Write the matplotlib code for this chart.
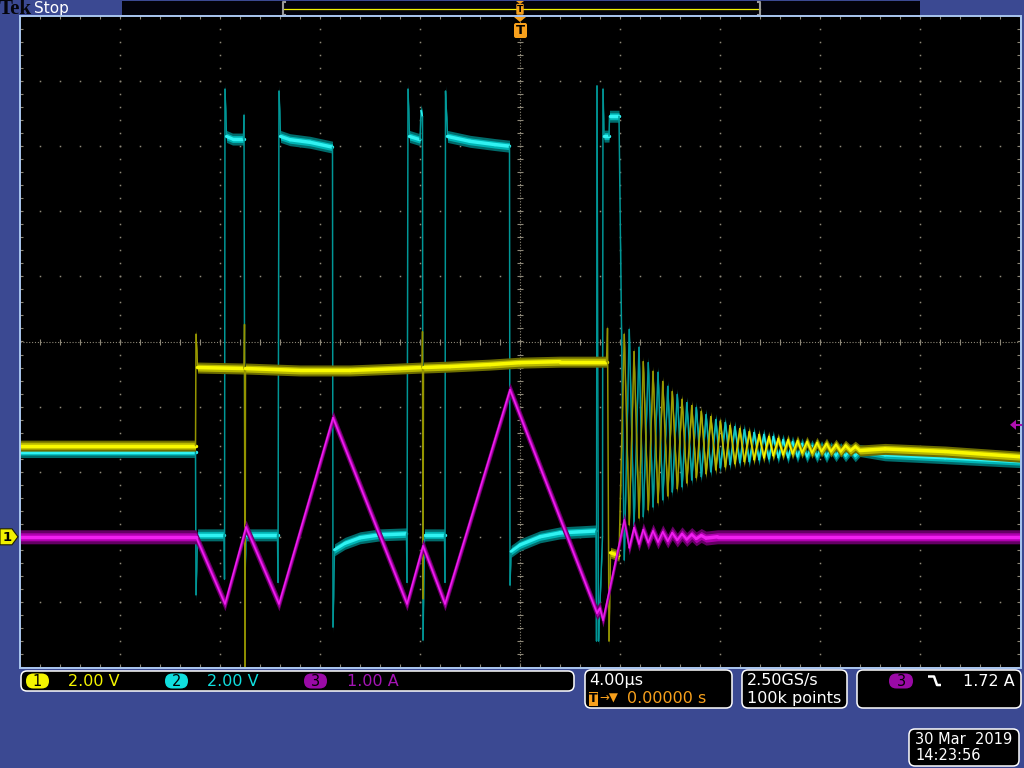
import numpy as np
import matplotlib
matplotlib.use("Agg")
import matplotlib.pyplot as plt
from matplotlib.collections import LineCollection
from matplotlib.patches import FancyBboxPatch, Polygon, Rectangle
from matplotlib.colors import to_rgb

# ---------------- data (time in µs, CH1/CH2 in V, CH3 in A) ----------------
ch1_t = [-20.0, -12.98, -12.96, -12.90, -11.04, -11.02, -11.00, -10.98, -8.8, -6.8,
         -4.8, -3.92, -3.90, -3.88, -3.86, -2.8, -1.2, 0.0, 1.6, 3.46, 3.50, 3.56, 3.62, 3.96]
ch1_v = [2.80, 2.80, 6.22, 5.20, 5.17, 6.52, -5.50, 5.17, 5.11, 5.11,
         5.17, 5.20, 6.30, -1.90, 5.20, 5.23, 5.29, 5.35, 5.38, 5.38, 6.40, -3.20, -0.49, -0.58]

ch2_t = [-20.0, -12.98, -12.96, -12.90,
         -11.84, -11.82, -11.80, -11.74, -11.50, -11.06, -11.04, -11.00, -10.96,
         -9.70, -9.68, -9.64, -9.58, -9.20, -8.40, -7.50, -7.48, -7.42, -7.00, -6.40, -5.60, -4.54,
         -4.52, -4.48, -4.42, -4.00, -3.96, -3.90, -3.88, -3.82, -3.02, -3.00, -2.98, -2.90, -2.00,
         -1.00, -0.42, -0.40, -0.36, 0.00, 0.80, 1.60, 3.04,
         3.06, 3.08, 3.14, 3.30, 3.32, 3.36, 3.56, 3.58, 3.96]
ch2_v = [2.62, 2.62, -1.78, 0.06,
         0.06, -1.30, 13.75, 12.30, 12.22, 12.22, 12.95, -1.30, 0.06,
         0.06, -1.40, 13.69, 12.30, 12.20, 12.12, 11.97, -2.77, -0.40, -0.20, -0.03, 0.06, 0.09,
         -1.40, 13.75, 12.30, 12.20, 13.10, 12.90, -3.17, 0.06, 0.06, -1.40, 13.69, 12.30, 12.15,
         12.05, 12.00, -1.48, -0.45, -0.25, 0.00, 0.12, 0.18,
         -3.20, 13.85, -3.20, 0.00, 13.75, 12.31, 12.31, 12.92, 12.92]

ch3_t = [-20.0, -12.96, -11.80, -10.96, -9.64, -7.48, -4.52, -3.88, -3.00, -0.40, 3.08, 3.20, 3.32]
ch3_a = [0.0, 0.0, -1.03, 0.15, -1.03, 1.83, -1.03, -0.14, -1.03, 2.26, -1.17, -1.10, -1.28]

# ringing after turn-off: peak times and peak values
ring_t = [4.17, 4.37, 4.56, 4.76, 4.93, 5.13, 5.32, 5.52, 5.71, 5.91,
          6.09, 6.29, 6.48, 6.67, 6.87, 7.05, 7.25, 7.44, 7.63, 7.83,
          8.01, 8.21, 8.40, 8.59, 8.79, 8.97, 9.17, 9.36, 9.56, 9.75,
          9.95, 10.13, 10.33, 10.52, 10.72, 10.90, 11.10, 11.28, 11.48, 11.68,
          11.88, 12.06, 12.26, 12.44, 12.64, 12.83, 13.02, 13.22, 13.41, 13.60]
ch1_ring = [6.22, 0.37, 5.69, 0.58, 5.38, 0.83, 5.08, 1.05, 4.77, 1.26,
            4.46, 1.48, 4.22, 1.66, 4.03, 1.82, 3.85, 1.94, 3.69, 2.06,
            3.54, 2.15, 3.42, 2.25, 3.32, 2.31, 3.23, 2.37, 3.14, 2.43,
            3.08, 2.49, 3.02, 2.52, 2.98, 2.55, 2.95, 2.58, 2.92, 2.58,
            2.89, 2.62, 2.86, 2.62, 2.83, 2.62, 2.80, 2.65, 2.77, 2.65]
ch2_ring = [-0.71, 6.37, 0.31, 5.82, 0.62, 5.35, 0.92, 5.05, 1.14, 4.62,
            1.38, 4.37, 1.54, 4.12, 1.75, 3.97, 1.85, 3.75, 2.00, 3.60,
            2.12, 3.51, 2.22, 3.38, 2.28, 3.29, 2.31, 3.20, 2.37, 3.14,
            2.40, 3.08, 2.43, 2.98, 2.43, 2.92, 2.46, 2.86, 2.46, 2.80,
            2.46, 2.77, 2.46, 2.74, 2.49, 2.71, 2.49, 2.68, 2.49, 2.65]
ch3_ring = [0.26, -0.17, 0.14, -0.11, 0.11, -0.09, 0.09, -0.08, 0.075, -0.065,
            0.06, -0.05, 0.045, -0.04, 0.035, -0.03, 0.02, -0.02]

ch1_tail_t = [14.6, 17.0, 20.0]
ch1_tail_v = [2.70, 2.62, 2.46]
ch2_tail_t = [14.6, 17.0, 20.0]
ch2_tail_v = [2.52, 2.43, 2.31]
ch3_tail_t = [7.9, 20.0]
ch3_tail_a = [0.0, 0.0]

# scope settings
scale = {"1": 2.0, "2": 2.0, "3": 1.0}      # units / div
position = -3.0                               # div
time_per_div = 4.0                            # µs
trig_level_a = 1.72
status_ch = ["2.00 V", "2.00 V", "1.00 A"]
timebase = "4.00µs"
trig_pos = "0.00000 s"
sample = ["2.50GS/s", "100k points"]
trig_text = "1.72 A"
date_lines = ["30 Mar  2019", "14:23:56"]

# ---------------- figure ----------------
W, H = 1024, 768
fig = plt.figure(figsize=(W / 100, H / 100), dpi=100)
BLUE = "#3b4992"
fig.patch.set_facecolor(BLUE)

bg = fig.add_axes([0, 0, 1, 1], zorder=0)
bg.set_xlim(0, W); bg.set_ylim(H, 0); bg.axis("off")

SX0, SX1, SY0, SY1 = 20, 1020, 16, 667
ax = fig.add_axes([SX0 / W, (H - SY1) / H, (SX1 - SX0) / W, (SY1 - SY0) / H], zorder=1)
ax.set_facecolor("black")
ax.set_xlim(-5 * time_per_div, 5 * time_per_div)
ax.set_ylim(-5, 5)
ax.set_xticks([]); ax.set_yticks([])
for s in ax.spines.values():
    s.set_visible(False)

fg = fig.add_axes([0, 0, 1, 1], zorder=3)
fg.set_xlim(0, W); fg.set_ylim(H, 0); fg.axis("off"); fg.patch.set_alpha(0)

PXX = (SX1 - SX0) / (10 * time_per_div)   # px per µs
PXY = (SY1 - SY0) / 10.0                  # px per div

# ---------------- graticule ----------------
GRID = "#8e8878"
yminor = np.arange(-5, 5.001, 0.2)
xminor = np.arange(-20, 20.001, 0.8)
for gx in np.arange(-16, 17, 4):
    if gx == 0:
        continue
    ax.plot(np.full_like(yminor, gx), yminor, ls="none", marker="s", ms=1.1, mew=0, color=GRID, zorder=0.5)
for gy in np.arange(-4, 5, 1):
    if gy == 0:
        continue
    ax.plot(xminor, np.full_like(xminor, gy), ls="none", marker="s", ms=1.1, mew=0, color=GRID, zorder=0.5)
ax.axhline(0, color=GRID, lw=0.8, ls=(0, (1, 1.6)), zorder=0.5)
ax.axvline(0, color=GRID, lw=0.8, ls=(0, (1, 1.6)), zorder=0.5)
ax.plot(xminor, np.zeros_like(xminor), ls="none", marker="|", ms=4, mew=0.8, color=GRID, zorder=0.5)
ax.plot(np.zeros_like(yminor), yminor, ls="none", marker="_", ms=4, mew=0.8, color=GRID, zorder=0.5)
ax.plot(np.full_like(yminor, -20), yminor, ls="none", marker="_", ms=4, mew=0.8, color=GRID, zorder=0.5)
ax.plot(np.full_like(yminor, 20), yminor, ls="none", marker="_", ms=4, mew=0.8, color=GRID, zorder=0.5)
ax.plot(xminor, np.full_like(xminor, -5), ls="none", marker="|", ms=4, mew=0.8, color=GRID, zorder=0.5)
ax.plot(xminor, np.full_like(xminor, 5), ls="none", marker="|", ms=4, mew=0.8, color=GRID, zorder=0.5)


# ---------------- traces (phosphor style) ----------------
def phosphor(t, d, bright, mid, outer, dim, h_outer, h_mid, h_core, z):
    t = np.asarray(t, float); d = np.asarray(d, float)
    # vertical noise bands
    ax.fill_between(t, d - h_outer / 2 / PXY, d + h_outer / 2 / PXY, color=outer, lw=0, zorder=z)
    ax.fill_between(t, d - h_mid / 2 / PXY, d + h_mid / 2 / PXY, color=mid, lw=0, zorder=z + 0.05)
    # bright core, intensity by slope
    pts = np.column_stack([t, d])
    segs = np.stack([pts[:-1], pts[1:]], axis=1)
    dx = np.diff(t) * PXX
    dy = np.diff(d) * PXY
    L = np.hypot(dx, dy) + 1e-9
    c = np.abs(dx) / L
    f = np.clip((c - 0.03) / 0.2, 0, 1)[:, None]
    b = np.array(to_rgb(bright)); dm = np.array(to_rgb(dim))
    col_core = dm + (b - dm) * f
    lw_core = np.maximum(h_core * c, 1.5) * 0.72
    ax.add_collection(LineCollection(segs, colors=col_core, linewidths=lw_core,
                                     capstyle="round", joinstyle="round", zorder=z + 0.1))


def to_div(vals, ch):
    return np.asarray(vals, float) / scale[ch] + position


t2 = ch2_t + ring_t + ch2_tail_t
d2 = to_div(ch2_v + ch2_ring + ch2_tail_v, "2")
t1 = ch1_t + ring_t + ch1_tail_t
d1 = to_div(ch1_v + ch1_ring + ch1_tail_v, "1")
t3 = ch3_t + ring_t[:len(ch3_ring)] + ch3_tail_t
d3 = to_div(ch3_a + ch3_ring + ch3_tail_a, "3")

phosphor(t2, d2, "#30f2f2", "#00b4b4", "#006c6c", "#009696", 12, 7, 3.5, 2)
phosphor(t1, d1, "#f8f800", "#b8b800", "#6c6c00", "#949400", 11, 7, 3.5, 3)
phosphor(t3, d3, "#f020f0", "#b000b0", "#640064", "#a000a0", 14, 8, 3.5, 4)

# ---------------- screen border ----------------
BORDER = "#a9c6ef"
fg.plot([SX0, SX1 + 1, SX1 + 1, SX0, SX0], [SY0, SY0, SY1 + 1, SY1 + 1, SY0], color=BORDER, lw=1.4,
        solid_joinstyle="miter")

# ---------------- top bar ----------------
ORANGE = "#f7a01c"
bg.text(-1, 8.5, "Tek", family="Liberation Serif", fontsize=15, weight="bold", color="#05050c",
        va="center", ha="left")
bg.text(34, 8.5, "Stop", family="DejaVu Sans", fontsize=11, color="white", va="center", ha="left")
bg.add_patch(Rectangle((122, 1), 798, 14, fc="#02020a", ec="none"))
bg.plot([283, 760], [8.5, 8.5], color="#f0f000", lw=0.9)
for xb, sgn in [(283, 1), (760, -1)]:
    bg.plot([xb + sgn * 2, xb, xb, xb + sgn * 2], [2, 2, 15, 15], color="#9a9a9a", lw=1.5)
fg.add_patch(Polygon([[516, 1], [524, 1], [520, 4]], closed=True, fc=ORANGE, ec="none"))
fg.add_patch(FancyBboxPatch((517.5, 5), 5, 8.5, boxstyle="round,pad=1.2", fc=ORANGE, ec="none"))
fg.text(520, 9.5, "T", fontsize=6.5, weight="bold", color="black", ha="center", va="center")
fg.add_patch(Polygon([[514, 17], [526, 17], [520, 22]], closed=True, fc=ORANGE, ec="none"))
fg.add_patch(FancyBboxPatch((516, 25), 9, 11, boxstyle="round,pad=2", fc=ORANGE, ec="none"))
fg.text(520.5, 31, "T", fontsize=9.5, weight="bold", color="black", ha="center", va="center")

# left channel marker (CH1 ground)
gy = SY0 + (5 - position) * PXY
fg.add_patch(Polygon([[0, gy - 8], [12, gy - 8], [18, gy], [12, gy + 8], [0, gy + 8]], closed=True,
                     fc="#f0f000", ec="#202000", lw=0.8))
fg.text(7, gy + 0.5, "1", fontsize=9.5, weight="bold", color="black", ha="center", va="center")

# right trigger level marker (CH3)
ty = SY0 + (5 - (trig_level_a / scale["3"] + position)) * PXY
fg.add_patch(Polygon([[1010, ty], [1016, ty - 5], [1016, ty + 5]], closed=True, fc="#b010b0", ec="none"))
fg.plot([1015, 1021], [ty, ty], color="#b010b0", lw=1.5)


# ---------------- bottom status ----------------
def rbox(x0, y0, x1, y1, fc="black", ec="white", r=5, lw=1.1, ax_=bg):
    ax_.add_patch(FancyBboxPatch((x0 + r, y0 + r), x1 - x0 - 2 * r, y1 - y0 - 2 * r,
                                 boxstyle=f"round,pad={r}", fc=fc, ec=ec, lw=lw))


rbox(21, 671, 574, 691, r=6)
badge = [("1", "#f4f400", "#f4f400", 26, 68), ("2", "#10dede", "#10dede", 165, 207),
         ("3", "#9a0aa6", "#a414b4", 304, 347)]
for (num, bcol, tcol, bx, tx), txt in zip(badge, status_ch):
    rbox(bx, 673.5, bx + 23, 688.5, fc=bcol, ec="none", r=7.4, lw=0)
    bg.text(bx + 11.5, 681.5, num, fontsize=10.5, color="black", ha="center", va="center")
    bg.text(tx, 681.5, txt, fontsize=11.5, color=tcol, ha="left", va="center")

rbox(585, 670, 732, 708, r=6)
bg.text(589, 680.5, timebase, fontsize=11.5, color="white", ha="left", va="center")
bg.add_patch(Rectangle((589, 691.5), 9, 14, fc=ORANGE, ec="none"))
bg.text(593.5, 698.8, "T", fontsize=9, weight="bold", color="black", ha="center", va="center")
bg.text(599, 698.5, "→▼", fontsize=8.5, color=ORANGE, ha="left", va="center")
bg.text(627, 698.5, trig_pos, fontsize=11.5, color=ORANGE, ha="left", va="center")

rbox(742, 670, 847, 708, r=6)
bg.text(747, 680.5, sample[0], fontsize=11.5, color="white", ha="left", va="center")
bg.text(747, 698.5, sample[1], fontsize=11.5, color="white", ha="left", va="center")

rbox(857, 670, 1021, 708, r=6)
rbox(889, 673.5, 913, 688.5, fc="#9a0aa6", ec="none", r=7.4, lw=0)
bg.text(901, 681.5, "3", fontsize=10.5, color="black", ha="center", va="center")
bg.plot([928, 934, 937, 941], [676.5, 676.5, 685, 685], color="white", lw=1.8, solid_capstyle="butt")
bg.text(1015, 681.5, trig_text, fontsize=11.5, color="white", ha="right", va="center")

rbox(909, 729, 1019, 766, r=6)
bg.text(915, 739.5, date_lines[0], fontsize=10.5, color="white", ha="left", va="center")
bg.text(915, 756, date_lines[1], fontsize=10.5, color="white", ha="left", va="center")

fig.savefig("out.png", dpi=100, facecolor=BLUE)
